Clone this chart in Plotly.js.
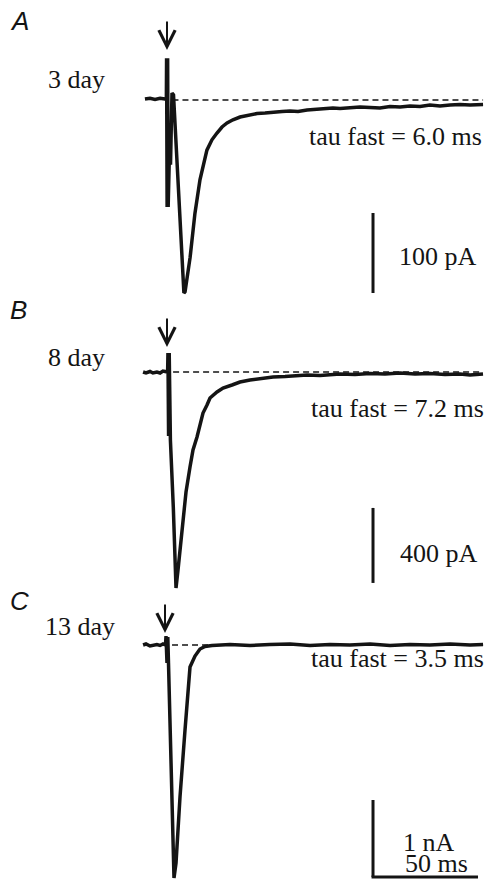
<!DOCTYPE html>
<html>
<head>
<meta charset="utf-8">
<script src="https://cdn.plot.ly/plotly-3.0.1.min.js"></script>
<style>html,body{margin:0;padding:0;background:#fff;}#chart{width:489px;height:881px;}</style>
</head>
<body>
<div id="chart"></div>
<script>
// ---- data (time in ms from stimulus; current in pA for A,B and nA for C) ----
const panelLetters = ["A", "B", "C"];
const ages = ["3 day", "8 day", "13 day"];
const tauFast = ["6.0", "7.2", "3.5"];
const scaleLabels = ["100 pA", "400 pA", "1 nA"];
const scaleValues = [100, 400, 1];   // vertical scale bars (pA, pA, nA)
const timeScale = 50;                // ms
const timeScaleLabel = "50 ms";

const timeA = [-10.5, -8.1, -5.7, -3.3, -1.0, -0.3, -0.2, 0.05, 0.3, 0.55, 1.19, 1.67, 2.38, 3.1, 5.48, 8.05, 8.6, 9.5, 11.0, 13.3, 15.7, 19.0, 21.4, 23.8, 26.2, 28.6, 31.4,
  34.8, 38.6, 42.9, 46.7, 50.5, 54.8, 58.6, 62.4, 66.7, 70.5, 75.2, 79.0, 82.4, 87.1, 91.9, 96.7, 101.4, 106.2, 111.0, 115.7, 120.5, 125.2, 130.0, 134.8, 139.5, 144.3, 150.5];
const currentA = [0, 1, -0.5, 1, 0, 0, 51, -135, 51, -135, -64, -82, 7.5, 5, -114, -242.5, -241, -224, -198, -143, -101, -64, -51, -42.5, -35, -30, -26,
  -22.5, -20, -18.1, -17.5, -16.3, -15.6, -15, -15.6, -13.8, -13.1, -12.5, -11.3, -11.9, -11.3, -10, -10.6, -11.3, -9.4, -10, -8.8, -9.4, -7.5, -8.8, -7.5, -6.9, -7.5, -6.9];

const timeB = [-11.4, -10.0, -8.1, -6.7, -4.8, -3.3, -1.9, -0.5, 0.3, 0.45, 0.75, 1.05, 1.35, 1.62, 3.0, 3.81, 4.29, 5.24, 6.19, 7.62, 9.05, 10.95, 12.38, 14.29, 15.71, 17.14, 19.05, 20.48, 23.81, 26.67, 30.95,
  34.76, 39.52, 42.86, 46.67, 50.48, 56.19, 60.95, 66.67, 72.86, 77.62, 82.38, 89.52, 96.67, 103.81, 110.95, 118.1, 125.24, 132.38, 139.52, 144.29, 150.48];
const currentB = [0, -5.3, 2.7, -5.3, 0, -5.3, 5.3, 0, 0, 101.3, -341.3, 101.3, -341.3, -362.7, -720, -1072, -1152, -1056, -949.3, -789.3, -640, -506.7, -416, -346.7, -288, -218.7, -176, -138.7, -106.7, -85.3, -69.3,
  -53.3, -42.7, -37.3, -34.7, -26.7, -24, -21.3, -16, -18.7, -13.3, -10.7, -13.3, -8, -10.7, -5.3, -10.7, -8, -13.3, -10.7, -16, -10.7];

const timeC = [-11.4, -10.0, -8.1, -6.7, -4.8, -3.3, -1.9, -0.71, -0.48, 0.0, 0.38, 0.71, 1.76, 2.71, 3.33, 4.29, 6.19, 8.57, 9.67, 10.95, 13.33, 15.71, 18.1, 21.43,
  30.0, 39.5, 49.0, 58.6, 68.1, 77.6, 87.1, 96.7, 106.2, 115.7, 125.2, 134.8, 144.3, 150.5];
const currentC = [0, 0.013, -0.013, 0, 0.006, -0.006, 0.013, 0, 0.117, -0.234, 0.104, -0.234, -1.532, -2.623, -3.026, -2.831, -1.974, -1.104, -0.675, -0.286, -0.143, -0.052, -0.019, -0.006,
  0.006, -0.006, 0.006, 0.013, -0.006, 0.006, 0, 0.013, -0.006, 0.006, 0, 0.013, 0, 0.006];

// ---- page geometry (pixels) ----
const W = 489, H = 881;
const px2ms = 2.1;      // pixels per ms
const stimPx = 167;     // x pixel of stimulus
const panels = [
  {zeroPx: 99,  pxPerUnit: 0.8},     // A: pA
  {zeroPx: 372, pxPerUnit: 0.1875},  // B: pA
  {zeroPx: 645, pxPerUnit: 77}       // C: nA
];
function yRange(p) { return [(p.zeroPx - H) / p.pxPerUnit, p.zeroPx / p.pxPerUnit]; }
const xRange = [-stimPx / px2ms, (W - stimPx) / px2ms];
const px = v => v / W, py = v => 1 - v / H;

const ink = '#141414';
const lineStyle = {color: ink, width: 3.5};
const traces = [
  {x: timeA, y: currentA, xaxis: 'x', yaxis: 'y',  mode: 'lines', line: lineStyle, hoverinfo: 'skip'},
  {x: timeB, y: currentB, xaxis: 'x', yaxis: 'y2', mode: 'lines', line: lineStyle, hoverinfo: 'skip'},
  {x: timeC, y: currentC, xaxis: 'x', yaxis: 'y3', mode: 'lines', line: lineStyle, hoverinfo: 'skip'}
];

const yrefs = ['y', 'y2', 'y3'];
const dashStart = [2.6, 2.9, 2.4];
const dashLevel = [-1.25, 0, 0];
const barX = 98.1;
const barBottom = [-242.5, -1125, -3.013];

const shapes = [];
for (let i = 0; i < 3; i++) {
  shapes.push({type: 'line', xref: 'x', yref: yrefs[i], x0: dashStart[i], x1: 150.5, y0: dashLevel[i], y1: dashLevel[i],
    line: {color: ink, width: 1.6, dash: '6px,4px'}, layer: 'below'});
  shapes.push({type: 'line', xref: 'x', yref: yrefs[i], x0: barX, x1: barX, y0: barBottom[i], y1: barBottom[i] + scaleValues[i],
    line: {color: ink, width: 3}});
}
shapes.push({type: 'line', xref: 'x', yref: 'y3', x0: barX - 0.7, x1: barX + timeScale, y0: barBottom[2], y1: barBottom[2],
  line: {color: ink, width: 3}});

const serif = {family: 'Liberation Serif, Times New Roman, serif', size: 26, color: ink};
const sans = {family: 'Liberation Sans, Arial, sans-serif', size: 26, color: ink};
const annotations = [];
const letterY = [21, 310, 601];
const ageX = [46, 46, 43], ageY = [79.2, 357.2, 626.2];
const tauY = [136.2, 408.2, 658], tauX = [484, 486, 486];
const scaleTextX = [397, 398, 401], scaleTextY = [256.2, 553.2, 842.2];
const arrowTip = [[0, 61.25], [0, 133.3], [-0.95, 0.156]];
for (let i = 0; i < 3; i++) {
  annotations.push({xref: 'paper', yref: 'paper', x: px(8), y: py(letterY[i]), xanchor: 'left', yanchor: 'middle',
    text: '<i>' + panelLetters[i] + '</i>', showarrow: false, font: sans});
  annotations.push({xref: 'paper', yref: 'paper', x: px(ageX[i]), y: py(ageY[i]), xanchor: 'left', yanchor: 'middle',
    text: ages[i], showarrow: false, font: serif});
  annotations.push({xref: 'paper', yref: 'paper', x: px(tauX[i]), y: py(tauY[i]), xanchor: 'right', yanchor: 'middle',
    text: 'tau fast = ' + tauFast[i] + ' ms', showarrow: false, font: serif});
  const sc = {xref: 'paper', yref: 'paper', x: px(scaleTextX[i]), y: py(scaleTextY[i]), xanchor: 'left', yanchor: 'middle',
    text: scaleLabels[i], showarrow: false, font: serif};
  if (i === 2) sc.height = 21;
  annotations.push(sc);
  annotations.push({xref: 'x', yref: yrefs[i], x: arrowTip[i][0], y: arrowTip[i][1], text: '', showarrow: true,
    ax: 0, ay: -30, arrowhead: 5, arrowsize: 1.6, arrowwidth: 2, arrowcolor: ink, standoff: 0});
}
annotations.push({xref: 'paper', yref: 'paper', x: px(403), y: py(863.2), xanchor: 'left', yanchor: 'middle', height: 21,
  text: timeScaleLabel, showarrow: false, font: serif});

const hidden = {visible: false, fixedrange: true};
const layout = {
  width: W, height: H,
  margin: {l: 0, r: 0, t: 0, b: 0, pad: 0},
  paper_bgcolor: '#ffffff', plot_bgcolor: '#ffffff',
  showlegend: false,
  xaxis: Object.assign({range: xRange, domain: [0, 1]}, hidden),
  yaxis: Object.assign({range: yRange(panels[0]), domain: [0, 1]}, hidden),
  yaxis2: Object.assign({range: yRange(panels[1]), overlaying: 'y'}, hidden),
  yaxis3: Object.assign({range: yRange(panels[2]), overlaying: 'y'}, hidden),
  shapes: shapes,
  annotations: annotations
};
Plotly.newPlot('chart', traces, layout, {staticPlot: true, displayModeBar: false});
</script>
</body>
</html>
